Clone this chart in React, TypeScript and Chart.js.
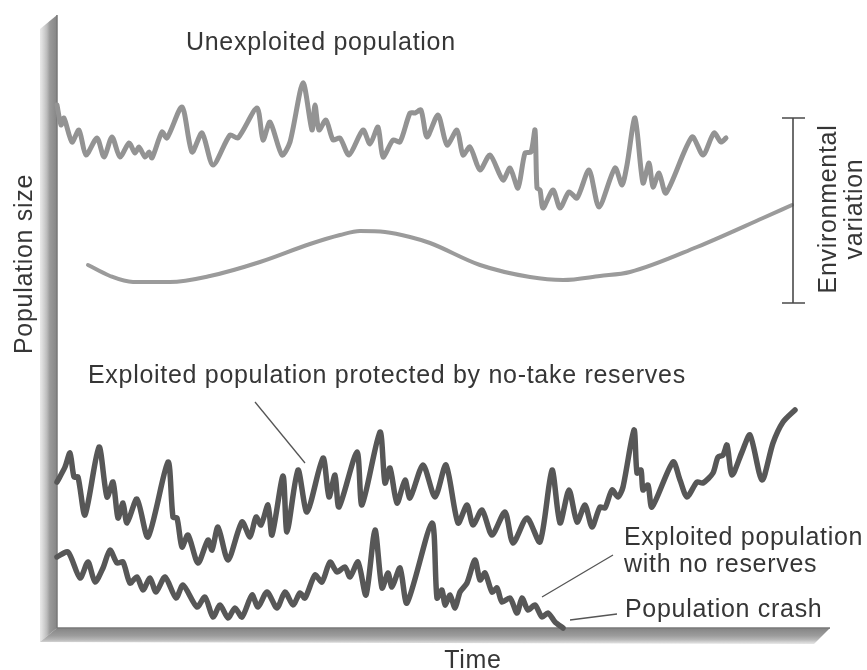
import React, { useEffect, useRef } from "react";
import { Chart, registerables } from "chart.js";

Chart.register(...registerables);

// Time (x) and population size (y), arbitrary units.
const unexploited: [number, number][] = [
  [0, 523], [4, 503], [7, 510], [15, 486], [22, 498], [29, 473], [40, 490], [47, 471], [55, 491], [63, 471],
  [72, 485], [78, 475], [82, 481], [88, 471], [92, 476], [95, 470], [105, 496], [110, 490], [125, 521], [135, 476],
  [145, 495], [156, 463], [173, 493], [181, 490], [200, 520], [206, 488], [213, 506], [225, 473], [233, 486], [246, 545],
  [255, 498], [258, 523], [262, 498], [269, 508], [276, 488], [283, 490], [292, 473], [306, 498], [313, 484], [321, 501],
  [326, 471], [336, 488], [343, 486], [353, 515], [358, 515], [364, 518], [370, 491], [381, 513], [390, 483], [400, 498],
  [406, 473], [413, 481], [423, 458], [433, 473], [446, 448], [453, 460], [461, 440], [468, 475], [474, 476], [478, 498],
  [480, 440], [483, 438], [486, 420], [496, 438], [503, 420], [512, 436], [520, 430], [532, 458], [542, 421], [558, 460],
  [565, 443], [570, 463], [578, 510], [586, 445], [592, 465], [596, 441], [602, 455], [609, 435], [635, 491], [646, 473],
  [657, 495], [664, 486], [669, 490],
];

const environment: [number, number][] = [
  [31, 363], [53, 352], [76, 346], [113, 346], [153, 352], [203, 366], [253, 384], [283, 393], [303, 397], [328, 396],
  [353, 391], [373, 385], [423, 363], [473, 351], [506, 348], [543, 352], [573, 356], [640, 381], [706, 410], [735, 423],
];

const protectedPop: [number, number][] = [
  [0, 146], [8, 161], [13, 175], [17, 151], [21, 151], [28, 113], [42, 181], [50, 131], [56, 146], [61, 110],
  [66, 125], [70, 105], [80, 129], [91, 91], [111, 166], [116, 111], [120, 110], [125, 81], [131, 93], [141, 65],
  [151, 88], [155, 78], [161, 101], [171, 68], [185, 106], [193, 91], [199, 111], [204, 103], [211, 123], [215, 93],
  [226, 152], [230, 96], [241, 158], [250, 116], [266, 170], [272, 131], [278, 153], [282, 121], [300, 176], [305, 123],
  [323, 196], [328, 145], [333, 160], [340, 125], [348, 148], [353, 130], [366, 163], [378, 131], [389, 163], [401, 105],
  [410, 123], [416, 103], [425, 118], [435, 93], [448, 116], [456, 85], [470, 110], [483, 86], [495, 158], [503, 105],
  [512, 138], [520, 106], [528, 123], [535, 101], [543, 121], [548, 120], [555, 138], [561, 131], [566, 141], [577, 198],
  [580, 155], [584, 158], [586, 138], [591, 143], [595, 121], [616, 166], [623, 148], [630, 131], [640, 146], [646, 145],
  [656, 155], [661, 171], [666, 173], [670, 183], [675, 153], [685, 176], [693, 193], [705, 148], [716, 185], [726, 206],
  [738, 218],
];

const noReserves: [number, number][] = [
  [0, 71], [11, 76], [23, 50], [31, 66], [38, 46], [46, 60], [53, 78], [60, 65], [66, 66], [73, 45],
  [80, 51], [86, 38], [93, 50], [99, 36], [108, 51], [119, 30], [126, 43], [140, 21], [148, 31], [156, 11],
  [163, 23], [171, 10], [178, 20], [185, 11], [195, 33], [201, 21], [210, 36], [220, 20], [228, 36], [236, 23],
  [243, 35], [248, 30], [258, 53], [265, 46], [273, 66], [280, 56], [288, 61], [293, 51], [301, 66], [309, 33],
  [318, 98], [325, 40], [331, 55], [335, 41], [343, 60], [350, 25], [375, 105], [380, 30], [385, 38], [388, 23],
  [393, 33], [398, 20], [403, 36], [410, 45], [418, 68], [423, 48], [428, 55], [435, 36], [440, 40], [445, 26],
  [453, 30], [460, 15], [465, 30], [471, 18], [478, 23], [485, 11], [491, 15], [498, 6], [506, 0],
];

const TIME_MAX = 773;
const SIZE_MAX = 613;

const FONT = "25px 'Liberation Sans', Arial, sans-serif";
const TEXT_COLOR = "#363636";

const toPts = (a: [number, number][]) => a.map(([x, y]) => ({ x, y }));

const decorPlugin = {
  id: "decor",
  beforeDatasetsDraw(chart: any) {
    const { ctx, chartArea } = chart;
    const { left, right, top, bottom } = chartArea;
    ctx.save();
    // vertical 3D axis bar
    let g = ctx.createLinearGradient(left - 18, 0, left, 0);
    g.addColorStop(0, "rgba(225,225,225,0.6)");
    g.addColorStop(0.45, "#b9b9b9");
    g.addColorStop(0.6, "#9a9a9a");
    g.addColorStop(1, "#858585");
    ctx.fillStyle = g;
    ctx.beginPath();
    ctx.moveTo(left - 17, top + 14);
    ctx.lineTo(left, top);
    ctx.lineTo(left, bottom);
    ctx.lineTo(left - 17, bottom + 14);
    ctx.closePath();
    ctx.fill();
    // horizontal 3D axis bar
    g = ctx.createLinearGradient(0, bottom, 0, bottom + 17);
    g.addColorStop(0, "#848484");
    g.addColorStop(0.45, "#9c9c9c");
    g.addColorStop(0.7, "#b8b8b8");
    g.addColorStop(1, "rgba(225,225,225,0.6)");
    ctx.fillStyle = g;
    ctx.beginPath();
    ctx.moveTo(left - 17, bottom + 14);
    ctx.lineTo(left, bottom);
    ctx.lineTo(right, bottom);
    ctx.lineTo(right - 16, bottom + 16);
    ctx.closePath();
    ctx.fill();
    // inner edges
    ctx.strokeStyle = "#7a7a7a";
    ctx.lineWidth = 1.5;
    ctx.beginPath();
    ctx.moveTo(left, top);
    ctx.lineTo(left, bottom);
    ctx.lineTo(right, bottom);
    ctx.stroke();
    ctx.restore();
  },
  afterDraw(chart: any) {
    const { ctx } = chart;
    const sx = chart.scales.x;
    const sy = chart.scales.y;
    const X = (v: number) => sx.getPixelForValue(v);
    const Y = (v: number) => sy.getPixelForValue(v);
    ctx.save();
    ctx.fillStyle = TEXT_COLOR;
    ctx.font = FONT;
    (ctx as any).letterSpacing = "0.7px";
    ctx.textAlign = "left";
    ctx.textBaseline = "alphabetic";
    ctx.fillText("Unexploited population", X(129), Y(578));
    ctx.fillText("Exploited population protected by no-take reserves", X(31), Y(245));
    ctx.fillText("Exploited population", X(567), Y(83));
    ctx.fillText("with no reserves", X(567), Y(56));
    ctx.fillText("Population crash", X(568), Y(11));
    ctx.textAlign = "center";
    ctx.fillText("Time", X(416), Y(-40));

    // rotated labels
    const vtext = (t: string, x: number, y: number) => {
      ctx.save();
      ctx.translate(x, y);
      ctx.rotate(-Math.PI / 2);
      ctx.textAlign = "center";
      ctx.fillText(t, 0, 0);
      ctx.restore();
    };
    vtext("Population size", X(-25), Y(364));
    vtext("Environmental", X(779), Y(419));
    vtext("variation", X(805), Y(419));

    // leader lines
    ctx.strokeStyle = "#555";
    ctx.lineWidth = 1.3;
    const seg = (a: number, b: number, c: number, d: number) => {
      ctx.beginPath();
      ctx.moveTo(X(a), Y(b));
      ctx.lineTo(X(c), Y(d));
      ctx.stroke();
    };
    seg(198, 226, 248, 165);
    seg(556, 73, 485, 31);
    seg(560, 14, 513, 8);

    // environmental variation bracket
    ctx.strokeStyle = "#4a4a4a";
    ctx.lineWidth = 1.6;
    seg(736, 510, 736, 325);
    ctx.beginPath();
    ctx.moveTo(X(736) - 11, Y(510));
    ctx.lineTo(X(736) + 12, Y(510));
    ctx.moveTo(X(736) - 11, Y(325));
    ctx.lineTo(X(736) + 12, Y(325));
    ctx.stroke();
    ctx.restore();
  },
};

export default function App() {
  const ref = useRef<HTMLCanvasElement | null>(null);
  useEffect(() => {
    if (!ref.current) return;
    const jag = (data: [number, number][], color: string, width: number) => ({
      data: toPts(data),
      borderColor: color,
      borderWidth: width,
      pointRadius: 0,
      tension: 0.25,
      borderJoinStyle: "round" as const,
      borderCapStyle: "round" as const,
      clip: false as any,
      fill: false,
    });
    const chart = new Chart(ref.current, {
      type: "line",
      data: {
        datasets: [
          jag(unexploited, "#939393", 5),
          { ...jag(environment, "#9b9b9b", 4), tension: 0.4, cubicInterpolationMode: "monotone" as const },
          jag(protectedPop, "#575757", 5.5),
          jag(noReserves, "#575757", 5.5),
        ],
      },
      options: {
        responsive: false,
        animation: false,
        parsing: true,
        layout: { padding: { left: 57, right: 37, top: 15, bottom: 42 } },
        plugins: { legend: { display: false }, tooltip: { enabled: false }, title: { display: false } },
        scales: {
          x: { type: "linear", min: 0, max: TIME_MAX, display: false },
          y: { type: "linear", min: 0, max: SIZE_MAX, display: false },
        },
      },
      plugins: [decorPlugin],
    });
    return () => chart.destroy();
  }, []);
  return (
    <div style={{ position: "absolute", left: 0, top: 0, width: 867, height: 670, background: "#fff" }}>
      <canvas ref={ref} width={867} height={670} style={{ display: "block" }} />
    </div>
  );
}
